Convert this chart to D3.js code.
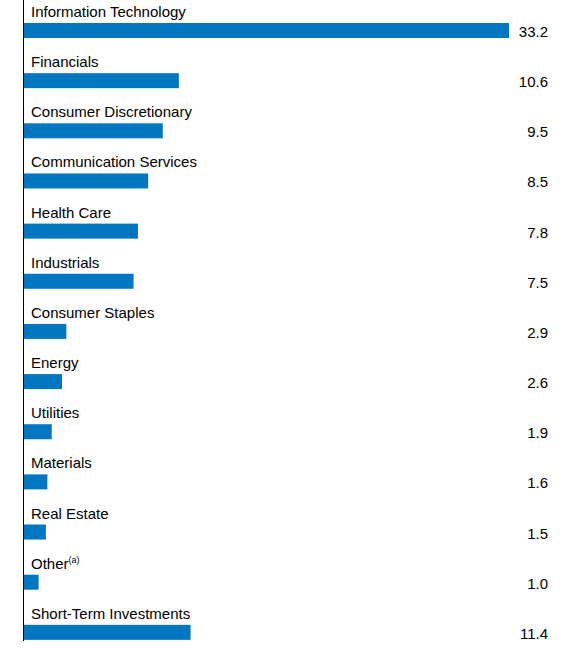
<!DOCTYPE html>
<html><head><meta charset="utf-8">
<script src="https://cdn.jsdelivr.net/npm/d3@7"></script>
<style>body{margin:0;background:#fff}text{font-family:"Liberation Sans",Arial,sans-serif;font-size:15px;fill:#000}</style>
</head><body><svg id="c" width="573" height="648"></svg>
<script>
const categories=["Information Technology","Financials","Consumer Discretionary","Communication Services","Health Care","Industrials","Consumer Staples","Energy","Utilities","Materials","Real Estate","Other","Short-Term Investments"];
const values=[33.2,10.6,9.5,8.5,7.8,7.5,2.9,2.6,1.9,1.6,1.5,1.0,11.4];
const valueLabels=["33.2","10.6","9.5","8.5","7.8","7.5","2.9","2.6","1.9","1.6","1.5","1.0","11.4"];
const svg=d3.select("#c");
const x=d3.scaleLinear().domain([0,33.2]).range([24,509]);
const y=d3.scaleBand().domain(categories).range([5,657]).paddingInner(0);
const bh=15, off=18;
svg.append("line").attr("x1",23.5).attr("x2",23.5).attr("y1",0).attr("y2",641).attr("stroke","#000").attr("stroke-width",1);
const g=svg.selectAll("g.r").data(categories).join("g");
g.append("rect").attr("x",x(0)).attr("y",d=>y(d)+off).attr("height",bh)
 .attr("width",(d,i)=>x(values[i])-x(0)).attr("fill","#0077c0");
const t=g.append("text").attr("x",31).attr("y",d=>y(d)+12);
t.text(d=>d);
t.filter(d=>d==="Other").append("tspan").attr("dy",-6).style("font-size","9px").text("(a)");
g.append("text").attr("x",548).attr("y",d=>y(d)+off+14).attr("text-anchor","end").text((d,i)=>valueLabels[i]);
</script></body></html>
